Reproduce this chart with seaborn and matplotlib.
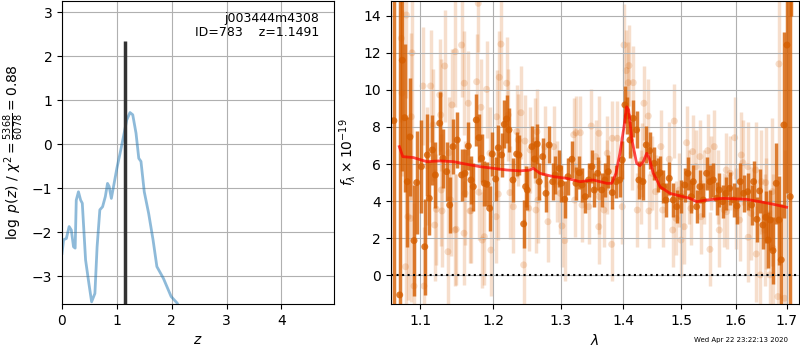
import numpy as np
import pandas as pd
import seaborn as sns
import matplotlib
matplotlib.use('Agg')
import matplotlib.pyplot as plt
from matplotlib.ticker import NullLocator

# ---- p(z) panel ----
z_grid = [0.00, 0.03, 0.08, 0.13, 0.17, 0.21, 0.24, 0.26, 0.30, 0.34, 0.37, 0.43,
          0.49, 0.54, 0.60, 0.64, 0.69, 0.74, 0.79, 0.83, 0.86, 0.90, 0.94, 1.00,
          1.06, 1.12, 1.18, 1.24, 1.29, 1.35, 1.40, 1.44, 1.50, 1.58, 1.66, 1.73,
          1.85, 1.99, 2.10, 2.16]
log_pz = [-2.48, -2.17, -2.14, -1.87, -1.95, -2.33, -2.36, -1.27, -1.08, -1.27, -1.34, -2.63,
          -3.16, -3.58, -3.39, -2.33, -1.49, -1.42, -1.19, -0.89, -0.96, -1.23, -0.96, -0.55,
          -0.20, 0.17, 0.55, 0.72, 0.67, 0.25, -0.32, -0.39, -1.08, -1.57, -2.17, -2.78,
          -3.05, -3.46, -3.61, -3.75]
z_best = 1.1491
pz_bar_top = 2.35
root_name = 'j003444m4308'
obj_id = 783
chi2_num, chi2_den = 5368, 6078

# ---- spectrum panel ----
lam_dark = [1.0664, 1.0738, 1.0771, 1.0802, 1.0835, 1.0870, 1.0922, 1.0957, 1.1017, 1.1062,
            1.1096, 1.1122, 1.1162, 1.1202, 1.1260, 1.1304, 1.1354, 1.1394, 1.1439, 1.1497,
            1.1557, 1.1603, 1.1649, 1.1686, 1.1718, 1.1760, 1.1797, 1.1835, 1.1873, 1.1910,
            1.1948, 1.1985, 1.2034, 1.2071, 1.2119, 1.2157, 1.2191, 1.2225, 1.2283, 1.2337,
            1.2370, 1.2440, 1.2469, 1.2493, 1.2563, 1.2603, 1.2642, 1.2672, 1.2724, 1.2774,
            1.2823, 1.2876, 1.2916, 1.2977, 1.3008, 1.3061, 1.3112, 1.3174, 1.3237, 1.3289,
            1.3332, 1.3384, 1.3437, 1.3490, 1.3527, 1.3582, 1.3647, 1.3700, 1.3754, 1.3820,
            1.3885, 1.3941, 1.3984, 1.4029, 1.4068, 1.4113, 1.4168, 1.4225, 1.4264, 1.4332,
            1.4389, 1.4447, 1.4526, 1.4584, 1.4624, 1.4681, 1.4729, 1.4787, 1.4858, 1.4918,
            1.4994, 1.5060, 1.5118, 1.5178, 1.5214, 1.5275, 1.5335, 1.5395, 1.5457, 1.5518,
            1.5580, 1.5643, 1.5691, 1.5754, 1.5816, 1.5885, 1.5961, 1.6024, 1.6087, 1.6152,
            1.6229, 1.6306, 1.6345, 1.6409, 1.6461, 1.6526, 1.6580, 1.6630, 1.6670, 1.6724,
            1.6789, 1.6843, 1.6889, 1.6943, 1.7004, 1.7070, 1.7091]
flux_dark = [8.34, -1.06, 11.60, 8.50, 5.05, 7.46, 1.87, 5.00, 5.86, 1.54,
             6.49, 4.15, 6.76, 5.41, 8.20, 6.31, 5.59, 3.79, 6.94, 7.30,
             5.41, 5.50, 6.97, 5.14, 4.78, 8.38, 7.42, 6.31, 4.96, 4.91,
             3.61, 6.54, 5.19, 6.88, 6.49, 8.14, 8.43, 7.84, 5.14, 6.54,
             6.49, 2.77, 4.78, 4.60, 6.94, 6.27, 7.08, 5.05, 6.40, 4.42,
             7.03, 5.05, 5.41, 5.77, 4.96, 4.10, 5.32, 6.26, 4.96, 5.53,
             4.87, 4.24, 5.14, 5.86, 4.60, 5.50, 4.60, 5.14, 5.59, 4.46,
             5.05, 5.14, 6.22, 9.19, 8.60, 7.30, 8.47, 7.84, 5.14, 5.05,
             7.03, 6.72, 6.04, 5.41, 5.53, 4.78, 4.06, 5.23, 4.06, 3.70,
             4.24, 4.87, 5.50, 4.24, 5.05, 3.70, 4.78, 4.06, 5.50, 5.05,
             5.14, 4.15, 4.60, 3.97, 4.42, 4.69, 4.06, 3.74, 5.05, 4.42,
             4.51, 3.79, 5.05, 3.02, 4.55, 2.71, 3.13, 1.90, 2.98, 1.33,
             4.96, 2.98, 0.83, 8.11, 12.42, 4.24, 17.50]
err_dark = [20.0, 16.0, 6.0, 4.0, 3.5, 3.2, 3.0, 2.8, 2.5, 2.6,
            2.2, 2.0, 1.9, 1.8, 1.7, 1.6, 1.6, 1.5, 1.5, 1.5,
            1.4, 1.3, 1.3, 1.3, 1.3, 1.4, 1.3, 1.3, 1.2, 1.2,
            1.2, 1.2, 1.2, 1.2, 1.2, 1.3, 1.3, 1.2, 1.2, 1.2,
            1.1, 1.3, 1.1, 1.1, 1.1, 1.0, 1.1, 1.0, 1.0, 1.0,
            1.0, 1.0, 1.0, 1.0, 1.0, 1.0, 1.0, 1.0, 0.9, 0.9,
            0.9, 0.9, 0.9, 0.9, 0.9, 0.9, 0.9, 0.9, 0.9, 0.9,
            0.9, 0.9, 1.0, 1.0, 1.0, 1.0, 1.0, 1.0, 1.0, 1.0,
            1.0, 1.0, 0.9, 0.9, 0.9, 0.9, 0.9, 0.9, 0.9, 0.9,
            0.9, 0.9, 0.9, 0.9, 0.9, 0.9, 0.9, 0.9, 0.9, 0.9,
            0.9, 0.9, 0.9, 0.9, 0.9, 0.9, 0.9, 1.0, 1.0, 1.0,
            1.0, 1.1, 1.1, 1.2, 1.2, 1.3, 1.4, 1.5, 1.6, 1.8,
            2.2, 2.4, 3.0, 5.0, 8.0, 12.0, 3.5]

lam_light = [1.0759, 1.0768, 1.0813, 1.0824, 1.0844, 1.0879, 1.0887, 1.0896, 1.0922, 1.1039,
             1.1052, 1.1096, 1.1140, 1.1171, 1.1193, 1.1215, 1.1260, 1.1273, 1.1281, 1.1291,
             1.1327, 1.1371, 1.1385, 1.1408, 1.1425, 1.1466, 1.1470, 1.1483, 1.1557, 1.1590,
             1.1593, 1.1603, 1.1649, 1.1672, 1.1686, 1.1765, 1.1787, 1.1797, 1.1825, 1.1843,
             1.1873, 1.1905, 1.1952, 1.1966, 1.2040, 1.2047, 1.2071, 1.2085, 1.2109, 1.2191,
             1.2214, 1.2239, 1.2288, 1.2337, 1.2360, 1.2400, 1.2440, 1.2459, 1.2514, 1.2537,
             1.2613, 1.2623, 1.2638, 1.2653, 1.2754, 1.2804, 1.2891, 1.2941, 1.2993, 1.3019,
             1.3061, 1.3201, 1.3217, 1.3237, 1.3305, 1.3332, 1.3437, 1.3479, 1.3550, 1.3600,
             1.3603, 1.3611, 1.3684, 1.3727, 1.3738, 1.3810, 1.3820, 1.3902, 1.3984, 1.4013,
             1.4051, 1.4084, 1.4096, 1.4151, 1.4168, 1.4236, 1.4293, 1.4320, 1.4349, 1.4423,
             1.4435, 1.4491, 1.4549, 1.4641, 1.4671, 1.4787, 1.4847, 1.4875, 1.4905, 1.4964,
             1.4994, 1.5052, 1.5095, 1.5142, 1.5172, 1.5202, 1.5263, 1.5335, 1.5353, 1.5414,
             1.5476, 1.5518, 1.5536, 1.5598, 1.5661, 1.5691, 1.5784, 1.5822, 1.5830, 1.5897,
             1.5980, 1.6010, 1.6075, 1.6106, 1.6138, 1.6235, 1.6240, 1.6293, 1.6384, 1.6396,
             1.6474, 1.6494, 1.6560, 1.6580, 1.6592, 1.6658, 1.6711, 1.6724, 1.6823, 1.6843,
             1.6957]
flux_light = [12.78, 9.83, 0.46, 14.04, 3.16, 3.07, 8.55, 12.00, -0.58, 10.21,
              -0.58, 5.90, 10.21, 8.11, 2.71, 3.56, 9.73, 8.65, 4.60, 3.47,
              11.29, 1.27, 6.61, 4.06, 9.19, 2.44, 12.06, 2.48, 12.42, 2.27,
              10.36, 4.42, 9.28, 3.47, 3.48, 10.44, 14.67, 4.48, 9.06, 1.90,
              2.08, 10.03, 6.58, 1.36, 3.16, 8.55, 4.38, 10.68, 12.47, 10.36,
              8.65, 4.46, 3.70, 7.75, 7.30, 8.77, 0.56, 7.24, 3.61, 6.76,
              7.26, 3.52, 7.75, 4.06, 6.94, 2.89, 6.94, 5.05, 4.42, 2.66,
              1.87, 7.58, 4.06, 7.69, 7.69, 3.79, 3.70, 8.05, 6.40, 2.62,
              7.66, 4.24, 3.52, 5.32, 6.58, 1.67, 7.39, 7.39, 3.70, 12.42,
              11.04, 10.39, 11.31, 6.58, 10.39, 3.52, 4.78, 6.22, 9.28, 8.59,
              3.47, 5.50, 4.51, 6.94, 3.52, 6.26, 2.44, 8.32, 3.07, 4.60,
              1.90, 2.62, 7.15, 4.78, 3.61, 6.67, 5.86, 6.40, 3.16, 4.78,
              6.72, 1.40, 5.50, 6.94, 4.78, 2.44, 3.52, 5.68, 3.43, 5.50,
              7.42, 3.61, 2.98, 6.49, 6.07, 5.86, 2.05, 3.34, 5.68, 1.15,
              0.02, 5.05, 2.44, 5.00, 3.34, 0.02, 4.51, 1.46, -1.15, 11.40,
              -1.24]
err_light = [4.5, 4.5, 4.5, 4.5, 4.5, 4.5, 4.5, 4.5, 4.5, 3.2,
             3.2, 3.2, 3.0, 3.0, 3.0, 3.0, 3.0, 3.0, 3.0, 3.0,
             3.0, 3.0, 3.0, 3.0, 3.0, 3.0, 3.0, 3.0, 2.8, 2.8,
             2.8, 2.8, 2.8, 2.8, 2.8, 2.6, 2.6, 2.6, 2.6, 2.6,
             2.6, 2.6, 2.5, 2.5, 2.5, 2.5, 2.5, 2.5, 2.5, 2.5,
             2.5, 2.5, 2.5, 2.5, 2.5, 2.5, 2.5, 2.5, 2.3, 2.3,
             2.3, 2.3, 2.3, 2.3, 2.2, 2.2, 2.2, 2.2, 2.2, 2.2,
             2.2, 2.0, 2.0, 2.0, 2.0, 2.0, 2.0, 2.0, 2.0, 2.0,
             2.0, 2.0, 2.0, 2.0, 2.0, 2.0, 2.0, 2.0, 2.0, 2.2,
             2.2, 2.2, 2.2, 2.0, 2.0, 2.0, 2.0, 2.0, 2.0, 2.0,
             2.0, 2.0, 2.0, 2.0, 2.0, 2.0, 2.0, 2.0, 2.0, 2.0,
             2.0, 2.0, 2.0, 2.0, 2.0, 2.0, 2.0, 2.0, 2.0, 2.0,
             2.0, 2.0, 2.0, 2.0, 2.0, 2.0, 2.0, 2.0, 2.0, 2.0,
             2.2, 2.2, 2.2, 2.3, 2.3, 2.4, 2.4, 2.5, 2.6, 2.6,
             2.8, 2.8, 3.0, 3.0, 3.0, 3.5, 4.0, 4.0, 6.0, 6.0,
             8.0]

lam_model = [1.0733, 1.0777, 1.0913, 1.1088, 1.1264, 1.1443, 1.1626, 1.1811, 1.1999, 1.2191,
             1.2385, 1.2533, 1.2582, 1.2683, 1.2885, 1.3092, 1.3300, 1.3512, 1.3728, 1.3810,
             1.3880, 1.3946, 1.4013, 1.4057, 1.4091, 1.4146, 1.4225, 1.4281, 1.4338, 1.4396,
             1.4440, 1.4509, 1.4570, 1.4624, 1.4799, 1.4976, 1.5154, 1.5275, 1.5457, 1.5750,
             1.6200, 1.6467, 1.6730, 1.6997]
flux_model = [6.94, 6.40, 6.35, 6.13, 6.17, 6.13, 5.99, 5.86, 5.77, 5.68,
              5.63, 5.68, 5.77, 5.50, 5.32, 5.23, 5.05, 5.14, 4.96, 4.96,
              5.50, 6.58, 8.01, 9.09, 8.92, 7.30, 6.04, 5.91, 6.13, 6.58,
              6.31, 5.50, 5.14, 4.78, 4.42, 4.28, 4.15, 3.97, 4.06, 4.15,
              4.10, 3.97, 3.83, 3.67]

lam_ticks = [1.1, 1.2, 1.3, 1.4, 1.5, 1.6, 1.7]
timestamp = 'Wed Apr 22 23:22:13 2020'

grism_color = sns.color_palette('colorblind')[3]

fig = plt.figure(figsize=(8, 3.5), dpi=100)
ax1 = fig.add_axes([0.0775, 0.1314, 0.34, 0.866])
ax2 = fig.add_axes([0.4884, 0.1314, 0.5108, 0.866])

# p(z)
ylim1 = (-3.63, 3.257)
sns.lineplot(x=z_grid, y=log_pz, ax=ax1, color='tab:blue', alpha=0.5, lw=2,
             sort=False, estimator=None)
ax1.vlines(z_best, ylim1[0], pz_bar_top, color='0.2', lw=2.5)
ax1.set_xlim(0, 4.96)
ax1.set_ylim(*ylim1)
ax1.set_xticks([0, 1, 2, 3, 4])
ax1.set_yticks([-3, -2, -1, 0, 1, 2, 3])
ax1.grid(True)
ax1.set_xlabel(r'$z$')
ax1.set_ylabel(r'$\log\ p(z)$ / $\chi^2=\frac{%d}{%d}=%.2f$' % (chi2_num, chi2_den, chi2_num / chi2_den))
ax1.text(0.947, 0.965, f'{root_name}\nID={obj_id}    z={z_best:.4f}',
         ha='right', va='top', transform=ax1.transAxes, fontsize=9, linespacing=1.15)

# spectrum
ax2.errorbar(lam_light, flux_light, yerr=err_light, fmt='none', ecolor=grism_color,
             alpha=0.2, elinewidth=2.5, zorder=1)
sns.scatterplot(x=lam_light, y=flux_light, ax=ax2, color=grism_color, alpha=0.2,
                s=25, edgecolor='none', zorder=1)
ax2.errorbar(lam_dark, flux_dark, yerr=err_dark, fmt='none', ecolor=grism_color,
             alpha=0.8, elinewidth=2.5, zorder=2)
sns.scatterplot(x=lam_dark, y=flux_dark, ax=ax2, color=grism_color, alpha=0.8,
                s=25, edgecolor='none', zorder=2)
ax2.axhline(0, color='k', ls=':', lw=1.5, zorder=3)
sns.lineplot(x=lam_model, y=flux_model, ax=ax2, color='red', alpha=0.7, lw=2,
             sort=False, estimator=None, zorder=4)

ax2.set_xscale('log')
ax2.set_xlim(1.0624, 1.7256)
ax2.set_ylim(-1.55, 14.8)
ax2.set_xticks(lam_ticks)
ax2.set_xticklabels([f'{t:.1f}' for t in lam_ticks])
ax2.xaxis.set_minor_locator(NullLocator())
ax2.set_yticks([0, 2, 4, 6, 8, 10, 12, 14])
ax2.grid(True)
ax2.set_xlabel(r'$\lambda$')
ax2.set_ylabel(r'$f_\lambda\times10^{-19}$')

fig.text(0.985, 0.028, timestamp, ha='right', va='center', fontsize=5)

fig.savefig('out.png', dpi=100)
